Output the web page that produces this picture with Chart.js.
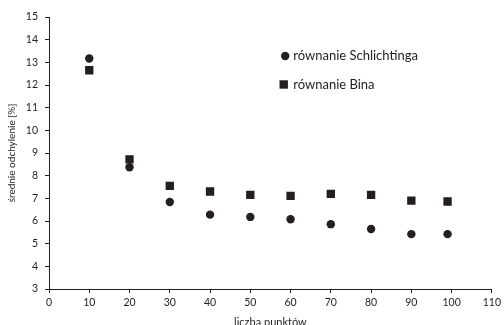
<!DOCTYPE html>
<html>
<head>
<meta charset="utf-8">
<script src="https://cdn.jsdelivr.net/npm/chart.js@4"></script>
<style>
  html, body { margin: 0; padding: 0; background: #fff; }
  #wrap { width: 504px; height: 325px; overflow: hidden; }
  #wrap > div { width: 504px; height: 334px; }
</style>
</head>
<body>
<div id="wrap"><div><canvas id="chart"></canvas></div></div>
<script>
const ink = '#231f20';
const textColor = '#1e1e1e';
const fontFamily = 'Lato, "Liberation Sans", sans-serif';

const pointCounts = [10, 20, 30, 40, 50, 60, 70, 80, 90, 99];
const schlichtinga = [13.17, 8.37, 6.84, 6.28, 6.18, 6.08, 5.86, 5.65, 5.42, 5.42];
const bina = [12.65, 8.72, 7.55, 7.30, 7.15, 7.11, 7.20, 7.15, 6.90, 6.86];

const seriesLabels = ['równanie Schlichtinga', 'równanie Bina'];
const xTitle = 'liczba punktów';
const yTitle = 'średnie odchylenie [%]';

const toPoints = ys => pointCounts.map((x, i) => ({ x: x, y: ys[i] }));

// legend sits inside the plot area, like the original
const insideLegend = {
    id: 'insideLegend',
    afterDraw(chart) {
        const ctx = chart.ctx;
        const area = chart.chartArea;
        const x0 = area.left + 0.530 * (area.right - area.left);
        const rows = [area.top + 39, area.top + 67.5];
        ctx.save();
        ctx.fillStyle = ink;
        chart.data.datasets.forEach((ds, i) => {
            const y = rows[i];
            ctx.beginPath();
            if (ds.pointStyle === 'rect') {
                ctx.rect(x0 - 4.2, y - 4.2, 8.4, 8.4);
            } else {
                ctx.arc(x0 + 1.5, y, 4.2, 0, Math.PI * 2);
            }
            ctx.fill();
        });
        ctx.fillStyle = textColor;
        ctx.font = '13px ' + fontFamily;
        ctx.textBaseline = 'middle';
        ctx.textAlign = 'left';
        chart.data.datasets.forEach((ds, i) => {
            ctx.fillText(ds.label, x0 + 9.5, rows[i]);
        });
        ctx.restore();
    }
};

document.addEventListener('DOMContentLoaded', () => {
    Chart.defaults.font.family = fontFamily;
    Chart.defaults.color = textColor;

    new Chart(document.getElementById('chart'), {
        type: 'scatter',
        data: {
            datasets: [
                {
                    label: seriesLabels[0],
                    data: toPoints(schlichtinga),
                    pointStyle: 'circle',
                    pointRadius: 4.2,
                    backgroundColor: ink,
                    borderColor: ink,
                    borderWidth: 0
                },
                {
                    label: seriesLabels[1],
                    data: toPoints(bina),
                    pointStyle: 'rect',
                    pointRadius: 5.9,
                    backgroundColor: ink,
                    borderColor: ink,
                    borderWidth: 0
                }
            ]
        },
        options: {
            responsive: true,
            maintainAspectRatio: false,
            animation: false,
            layout: {
                padding: { top: 17, right: 11, left: 0, bottom: 0 }
            },
            plugins: {
                legend: { display: false },
                tooltip: { enabled: false }
            },
            scales: {
                x: {
                    type: 'linear',
                    min: 0,
                    max: 110,
                    ticks: {
                        stepSize: 10,
                        padding: 3,
                        font: { size: 10.5 },
                        maxRotation: 0
                    },
                    grid: {
                        drawOnChartArea: false,
                        drawTicks: true,
                        tickLength: 4,
                        tickColor: ink
                    },
                    border: { color: ink, width: 1 },
                    title: {
                        display: true,
                        text: xTitle,
                        font: { size: 11 },
                        padding: { top: 4, bottom: 5 }
                    },
                    afterFit: scale => { scale.height = 45; }
                },
                y: {
                    type: 'linear',
                    min: 3,
                    max: 15,
                    ticks: {
                        stepSize: 1,
                        padding: 7,
                        font: { size: 10.5 }
                    },
                    grid: {
                        drawOnChartArea: false,
                        drawTicks: true,
                        tickLength: 4,
                        tickColor: ink
                    },
                    border: { color: ink, width: 1 },
                    title: {
                        display: true,
                        text: yTitle,
                        font: { size: 10 },
                        padding: { top: 6, bottom: 0 }
                    },
                    afterFit: scale => { scale.width = 49; }
                }
            }
        },
        plugins: [insideLegend]
    });
});
</script>
</body>
</html>
